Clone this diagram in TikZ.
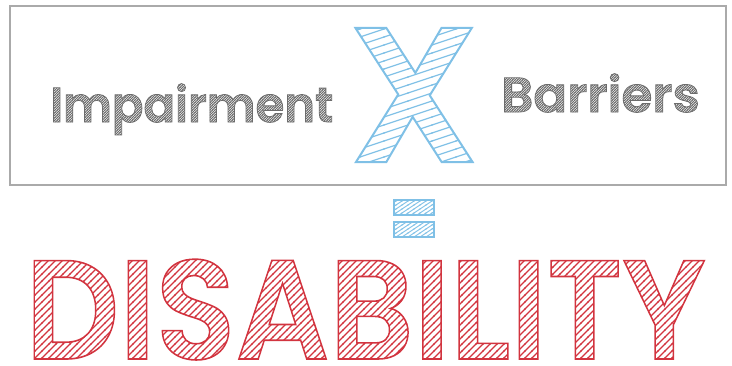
\documentclass[tikz,border=0pt]{standalone}
\usepackage{fontspec}
\usetikzlibrary{patterns}
\newfontfamily\popfont{Poppins SemiBold}
\definecolor{frame}{HTML}{AAAAAA}
\definecolor{graytxt}{HTML}{6C6C6C}
\definecolor{skyink}{HTML}{7FC0E6}
\definecolor{redink}{HTML}{D2343F}
% hatch tiles for the sketched letters
\pgfdeclarepatternformonly{redhatch}{\pgfqpoint{-1pt}{-1pt}}{\pgfqpoint{8pt}{8pt}}{\pgfqpoint{7pt}{7pt}}{\pgfsetlinewidth{1.1pt}\pgfpathmoveto{\pgfqpoint{-0.5pt}{-0.5pt}}\pgfpathlineto{\pgfqpoint{7.5pt}{7.5pt}}\pgfusepath{stroke}}
\pgfdeclarepatternformonly{bluehatch}{\pgfqpoint{-1pt}{-1pt}}{\pgfqpoint{25pt}{9pt}}{\pgfqpoint{24pt}{8pt}}{\pgfsetlinewidth{1.2pt}\pgfpathmoveto{\pgfqpoint{-1.5pt}{-0.5pt}}\pgfpathlineto{\pgfqpoint{25.5pt}{8.5pt}}\pgfusepath{stroke}}
\pgfdeclarepatternformonly{eqhatch}{\pgfqpoint{-1pt}{-1pt}}{\pgfqpoint{7pt}{5pt}}{\pgfqpoint{6pt}{4pt}}{\pgfsetlinewidth{0.9pt}\pgfpathmoveto{\pgfqpoint{-0.75pt}{-0.5pt}}\pgfpathlineto{\pgfqpoint{6.75pt}{4.5pt}}\pgfusepath{stroke}}
\pgfdeclarepatternformonly{grayhatch}{\pgfqpoint{-1pt}{-1pt}}{\pgfqpoint{3.5pt}{3.5pt}}{\pgfqpoint{2.5pt}{2.5pt}}{\pgfsetlinewidth{0.9pt}\pgfpathmoveto{\pgfqpoint{-0.5pt}{-0.5pt}}\pgfpathlineto{\pgfqpoint{3pt}{3pt}}\pgfusepath{stroke}}
% letters filled with a pattern and outlined (text render mode 2)
\newcommand\sketchtext[4]{{\color{#2}\pgfsetfillpattern{#1}{#2}\special{pdf:literal direct 2 Tr #3 w}#4}}
\tikzset{word/.style={inner sep=0pt,anchor=base west,font=\popfont\fontsize{49}{49}\selectfont},
  eqbar/.style={draw=skyink,line width=1.2pt,pattern=eqhatch,pattern color=skyink,minimum width=40pt,minimum height=15pt,inner sep=0pt}}
\begin{document}
\begin{tikzpicture}[x=1pt,y=1pt]
\useasboundingbox(0,0)rectangle(732,-365);
\node[draw=frame,line width=1.4pt,minimum width=716pt,minimum height=179pt,inner sep=0pt](panel)at(368,-95.5){};
\node[word](imp)at(50,-122){\scalebox{0.95}[1]{\sketchtext{grayhatch}{graytxt}{0.8}{Impairment}}};
\node[word](bar)at(501,-112){\scalebox{1.02}[1]{\sketchtext{grayhatch}{graytxt}{0.8}{Barriers}}};
\node[inner sep=0pt,anchor=base,font=\popfont\fontsize{192}{192}\selectfont](times)at(414,-162){\sketchtext{bluehatch}{skyink}{2}{X}};
\node[eqbar](eqtop)at(414,-207.5){};\node[eqbar](eqbot)at(414,-229.5){};
\node[inner sep=0pt,anchor=base west,font=\popfont\fontsize{141}{141}\selectfont](dis)at(25,-359){\scalebox{0.93}[1]{\sketchtext{redhatch}{redink}{1.6}{DISABILITY}}};
\end{tikzpicture}
\end{document}
